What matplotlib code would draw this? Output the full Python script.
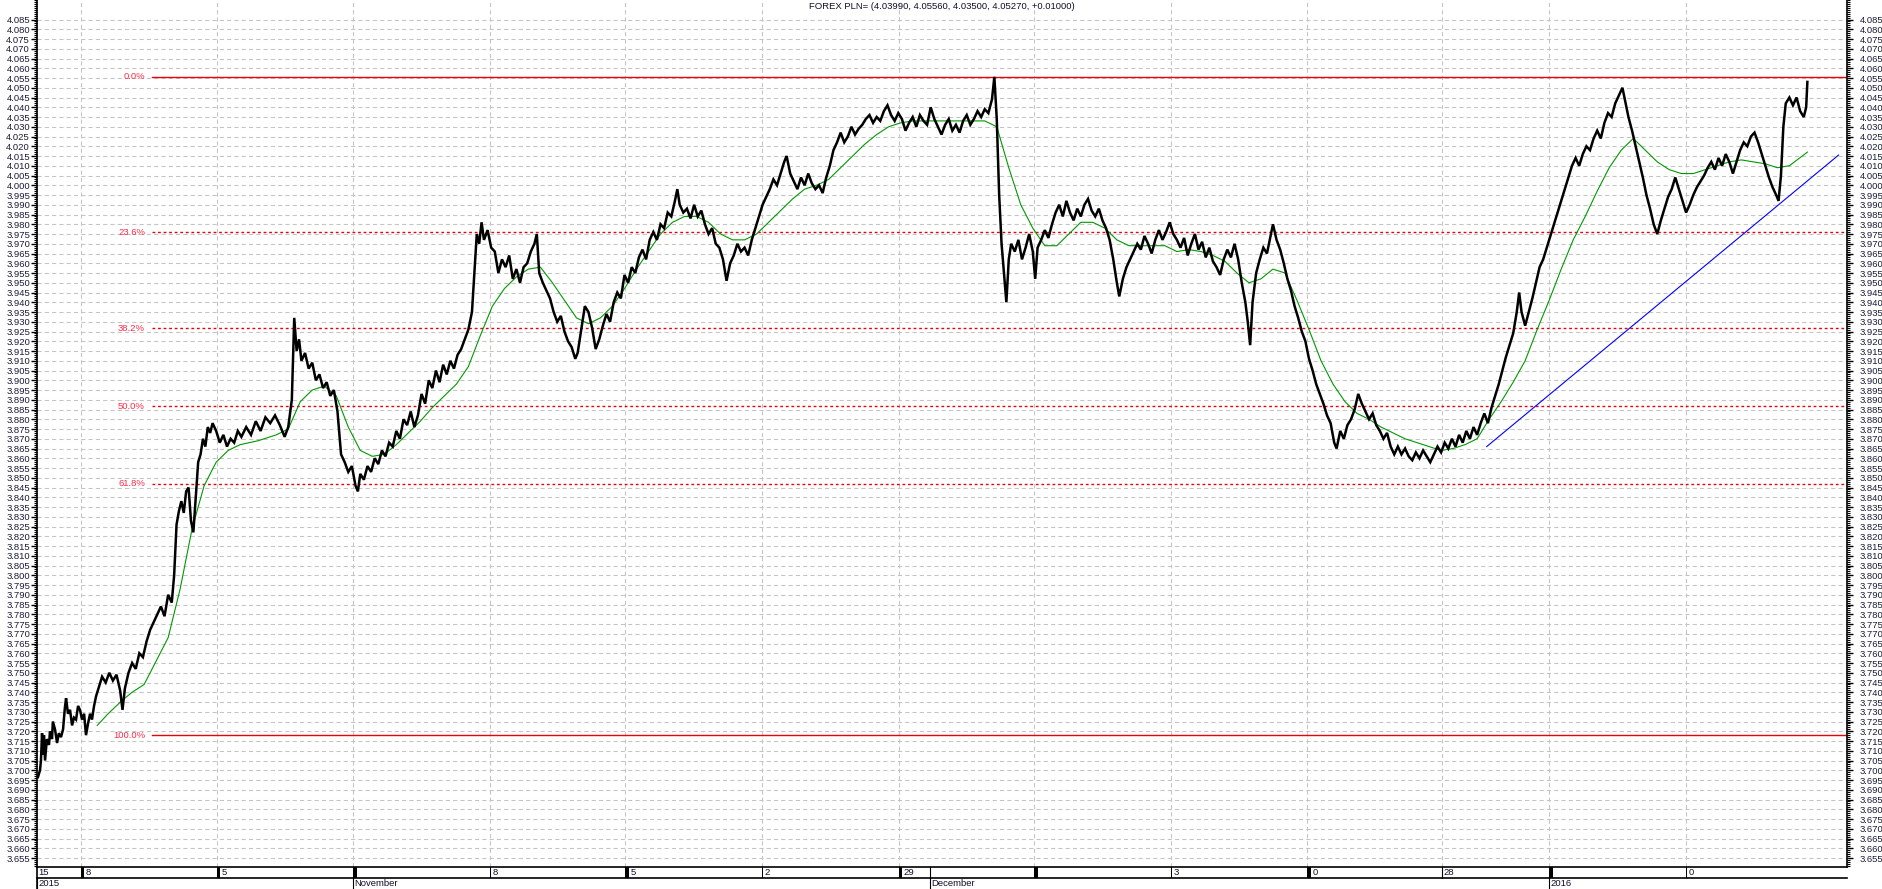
import matplotlib
matplotlib.use("Agg")
import matplotlib.pyplot as plt
from matplotlib.ticker import FixedLocator, MultipleLocator, FormatStrFormatter
import matplotlib.transforms as mtransforms
import numpy as np

plt.rcParams['font.family'] = ['Liberation Sans', 'DejaVu Sans']

TITLE = "FOREX PLN= (4.03990, 4.05560, 4.03500, 4.05270, +0.01000)"

# ---- price series (bar index, close) ----
price_x = [31.6, 33.3, 34.1, 35, 35.8, 36.6, 37.5, 39, 40.8, 41.6, 43.3, 44, 45.8, 47.5, 49, 50.8, 52.5, 54, 55,
           56.6, 58.3, 60, 61.6, 63.3, 65, 66.6, 68.3, 70, 71.6, 73.3, 75, 76.6, 78.3, 80, 82, 85, 88, 91, 94, 97,
           100, 102, 104, 107, 110, 113, 116, 119, 122, 125, 128, 131, 134, 137, 140, 143, 145, 147, 149, 151, 153,
           155, 157, 159, 161, 163, 165, 167, 169, 171, 173, 175, 177, 180, 183, 186, 189, 192, 195, 198, 201, 205,
           209, 213, 217, 221, 225, 229, 233, 237, 240, 243, 245, 247, 249, 251, 254, 257, 260, 263, 266, 269, 272,
           275, 278, 281, 284, 287, 290, 293, 296, 298, 300, 303, 306, 309, 312, 315, 318, 321, 324, 327, 330, 333,
           336, 339, 342, 345, 348, 351, 354, 357, 360, 363, 366, 369, 372, 375, 378, 381, 384, 387, 390, 393, 395,
           397, 399, 401, 403, 406, 409, 412, 415, 418, 421, 424, 427, 430, 433, 436, 439, 442, 445, 447, 449, 452,
           455, 458, 461, 464, 467, 470, 473, 476, 479, 481, 484, 487, 490, 493, 496, 499, 502, 505, 508, 511, 514,
           517, 520, 523, 526, 529, 532, 535, 538, 541, 544, 547, 550, 553, 556, 559, 562, 564, 566, 569, 572, 575,
           578, 581, 584, 587, 590, 593, 596, 599, 602, 605, 608, 611, 614, 617, 620, 623, 626, 629, 632, 635, 638,
           641, 644, 647, 650, 653, 655, 658, 661, 664, 667, 670, 673, 676, 679, 682, 685, 688, 691, 694, 697, 700,
           703, 706, 709, 712, 715, 718, 721, 724, 727, 730, 733, 736, 739, 742, 745, 748, 751, 754, 757, 760, 763,
           766, 769, 772, 775, 778, 781, 784, 787, 790, 793, 796, 799, 802, 805, 808, 811, 814, 817, 820, 823, 826,
           828, 830, 832, 834, 836, 838, 840, 842, 845, 848, 851, 854, 857, 860, 862, 864, 867, 870, 873, 876, 879,
           882, 885, 888, 891, 894, 897, 900, 903, 906, 909, 912, 915, 918, 921, 924, 927, 930, 932, 935, 938, 941,
           944, 947, 950, 953, 956, 959, 962, 965, 968, 971, 974, 977, 980, 983, 986, 989, 992, 995, 998, 1001,
           1004, 1007, 1010, 1013, 1016, 1019, 1022, 1025, 1028, 1031, 1034, 1037, 1039, 1041, 1043, 1046, 1049,
           1052, 1055, 1058, 1060, 1063, 1066, 1069, 1072, 1075, 1078, 1081, 1084, 1087, 1090, 1093, 1096, 1099,
           1102, 1105, 1108, 1111, 1113, 1116, 1119, 1122, 1125, 1128, 1131, 1134, 1137, 1140, 1143, 1146, 1149,
           1152, 1155, 1158, 1161, 1164, 1167, 1170, 1173, 1176, 1179, 1182, 1185, 1188, 1191, 1194, 1197, 1200,
           1203, 1206, 1209, 1212, 1215, 1218, 1221, 1224, 1227, 1230, 1233, 1236, 1239, 1242, 1245, 1248, 1251,
           1254, 1257, 1260, 1263, 1265, 1267, 1270, 1273, 1276, 1279, 1282, 1285, 1288, 1291, 1294, 1297, 1300,
           1303, 1306, 1309, 1312, 1315, 1318, 1321, 1324, 1327, 1330, 1333, 1336, 1339, 1342, 1345, 1348, 1351,
           1353, 1356, 1359, 1362, 1365, 1368, 1371, 1374, 1377, 1380, 1383, 1386, 1389, 1392, 1395, 1398, 1401,
           1404, 1407, 1410, 1413, 1416, 1419, 1422, 1425, 1428, 1431, 1434, 1437, 1440, 1443, 1446, 1449, 1452,
           1455, 1458, 1461, 1464, 1467, 1470, 1473, 1476, 1479, 1481, 1483, 1485, 1487, 1490, 1493, 1496, 1499,
           1502, 1504, 1505]
price_y = [3.6965, 3.700, 3.705, 3.719, 3.708, 3.718, 3.705, 3.716, 3.713, 3.720, 3.716, 3.725, 3.721, 3.714, 3.719,
           3.717, 3.721, 3.732, 3.737, 3.729, 3.731, 3.723, 3.727, 3.726, 3.733, 3.731, 3.726, 3.729, 3.718, 3.724,
           3.729, 3.726, 3.733, 3.738, 3.742, 3.748, 3.745, 3.750, 3.746, 3.749, 3.741, 3.731, 3.742, 3.750, 3.755,
           3.752, 3.760, 3.758, 3.766, 3.772, 3.776, 3.780, 3.784, 3.779, 3.790, 3.786, 3.800, 3.826, 3.833, 3.838,
           3.832, 3.843, 3.845, 3.828, 3.822, 3.840, 3.858, 3.862, 3.870, 3.866, 3.876, 3.873, 3.878, 3.874, 3.868,
           3.872, 3.866, 3.870, 3.868, 3.874, 3.871, 3.876, 3.872, 3.879, 3.874, 3.881, 3.878, 3.882, 3.877, 3.871,
           3.876, 3.890, 3.932, 3.915, 3.921, 3.910, 3.914, 3.906, 3.909, 3.900, 3.903, 3.896, 3.899, 3.892, 3.895,
           3.884, 3.862, 3.858, 3.853, 3.856, 3.846, 3.843, 3.852, 3.849, 3.856, 3.853, 3.860, 3.857, 3.864, 3.861,
           3.868, 3.866, 3.874, 3.870, 3.880, 3.877, 3.884, 3.876, 3.882, 3.893, 3.888, 3.900, 3.896, 3.905, 3.899,
           3.908, 3.903, 3.910, 3.906, 3.913, 3.916, 3.921, 3.926, 3.935, 3.955, 3.975, 3.970, 3.981, 3.972, 3.977,
           3.968, 3.966, 3.955, 3.962, 3.958, 3.964, 3.952, 3.957, 3.950, 3.958, 3.960, 3.966, 3.970, 3.975, 3.955,
           3.950, 3.946, 3.942, 3.935, 3.930, 3.933, 3.925, 3.920, 3.917, 3.911, 3.914, 3.926, 3.938, 3.935, 3.927,
           3.916, 3.921, 3.928, 3.934, 3.930, 3.940, 3.945, 3.942, 3.954, 3.950, 3.958, 3.955, 3.963, 3.967, 3.962,
           3.972, 3.976, 3.972, 3.980, 3.978, 3.986, 3.984, 3.992, 3.998, 3.990, 3.986, 3.988, 3.983, 3.990, 3.984,
           3.987, 3.980, 3.975, 3.978, 3.970, 3.968, 3.962, 3.951, 3.960, 3.964, 3.970, 3.966, 3.968, 3.964, 3.972,
           3.978, 3.984, 3.990, 3.994, 3.998, 4.003, 4.000, 4.006, 4.012, 4.015, 4.006, 4.002, 3.998, 4.004, 4.000,
           4.006, 4.001, 3.998, 4.000, 3.996, 4.004, 4.010, 4.018, 4.022, 4.027, 4.022, 4.025, 4.030, 4.026, 4.029,
           4.031, 4.034, 4.036, 4.032, 4.035, 4.033, 4.038, 4.041, 4.036, 4.033, 4.037, 4.034, 4.028, 4.032, 4.035,
           4.030, 4.036, 4.033, 4.031, 4.040, 4.034, 4.030, 4.026, 4.031, 4.034, 4.028, 4.031, 4.027, 4.033, 4.036,
           4.031, 4.034, 4.038, 4.035, 4.039, 4.037, 4.044, 4.0556, 4.034, 3.995, 3.970, 3.955, 3.940, 3.962, 3.970,
           3.966, 3.972, 3.962, 3.968, 3.975, 3.966, 3.952, 3.968, 3.972, 3.977, 3.973, 3.980, 3.986, 3.990, 3.984,
           3.992, 3.986, 3.982, 3.988, 3.984, 3.990, 3.993, 3.987, 3.984, 3.988, 3.982, 3.978, 3.972, 3.962, 3.950,
           3.943, 3.952, 3.958, 3.962, 3.966, 3.970, 3.967, 3.974, 3.970, 3.965, 3.972, 3.977, 3.972, 3.976, 3.981,
           3.975, 3.972, 3.968, 3.973, 3.964, 3.970, 3.975, 3.967, 3.971, 3.963, 3.968, 3.961, 3.958, 3.954, 3.962,
           3.967, 3.963, 3.970, 3.962, 3.950, 3.940, 3.930, 3.918, 3.940, 3.955, 3.962, 3.968, 3.965, 3.974, 3.980,
           3.972, 3.967, 3.960, 3.952, 3.946, 3.938, 3.932, 3.925, 3.920, 3.911, 3.905, 3.898, 3.893, 3.888, 3.882,
           3.878, 3.868, 3.865, 3.874, 3.870, 3.877, 3.880, 3.885, 3.893, 3.888, 3.884, 3.880, 3.883, 3.877, 3.874,
           3.870, 3.873, 3.866, 3.862, 3.866, 3.862, 3.865, 3.861, 3.859, 3.863, 3.860, 3.864, 3.861, 3.858, 3.862,
           3.866, 3.863, 3.868, 3.865, 3.870, 3.866, 3.872, 3.868, 3.874, 3.870, 3.876, 3.872, 3.878, 3.883, 3.878,
           3.886, 3.892, 3.898, 3.905, 3.912, 3.918, 3.924, 3.935, 3.945, 3.935, 3.928, 3.935, 3.942, 3.950, 3.958,
           3.962, 3.968, 3.974, 3.980, 3.986, 3.992, 3.998, 4.004, 4.010, 4.014, 4.010, 4.016, 4.020, 4.018, 4.024,
           4.028, 4.024, 4.032, 4.037, 4.035, 4.042, 4.046, 4.050, 4.044, 4.035, 4.028, 4.020, 4.012, 4.004, 3.995,
           3.988, 3.980, 3.975, 3.982, 3.988, 3.994, 3.998, 4.004, 3.998, 3.992, 3.986, 3.990, 3.995, 3.999, 4.002,
           4.005, 4.009, 4.012, 4.008, 4.014, 4.010, 4.016, 4.012, 4.006, 4.012, 4.018, 4.022, 4.020, 4.025, 4.027,
           4.022, 4.016, 4.010, 4.004, 3.999, 3.995, 3.992, 4.005, 4.030, 4.042, 4.045, 4.041, 4.045, 4.038, 4.035,
           4.040, 4.053]

# ---- moving average (green) ----
ma_x = [81, 90, 102, 110, 120, 140, 150, 160, 170, 180, 190, 200, 215, 230, 240, 250, 260, 270, 280, 290, 300,
        310, 320, 330, 340, 350, 360, 370, 380, 390, 400, 410, 420, 430, 440, 450, 460, 470, 480, 490, 500, 510,
        520, 530, 540, 550, 560, 570, 580, 590, 600, 610, 620, 630, 640, 650, 660, 670, 680, 690, 700, 710, 720,
        730, 740, 750, 760, 780, 800, 820, 830, 840, 850, 860, 870, 880, 890, 900, 910, 920, 930, 940, 950, 960,
        970, 980, 990, 1000, 1010, 1020, 1030, 1040, 1050, 1060, 1070, 1080, 1090, 1100, 1110, 1120, 1130, 1140,
        1150, 1160, 1170, 1180, 1190, 1200, 1210, 1220, 1230, 1240, 1250, 1260, 1270, 1280, 1290, 1300, 1310,
        1320, 1330, 1340, 1350, 1360, 1370, 1380, 1390, 1400, 1410, 1420, 1430, 1440, 1450, 1460, 1470, 1480,
        1490, 1505]
ma_y = [3.723, 3.729, 3.736, 3.740, 3.744, 3.768, 3.793, 3.824, 3.846, 3.858, 3.864, 3.867, 3.869, 3.872, 3.875,
        3.889, 3.895, 3.897, 3.892, 3.876, 3.864, 3.861, 3.862, 3.867, 3.873, 3.879, 3.886, 3.892, 3.898, 3.907,
        3.923, 3.938, 3.947, 3.953, 3.957, 3.958, 3.950, 3.941, 3.932, 3.929, 3.932, 3.938, 3.947, 3.957, 3.966,
        3.975, 3.981, 3.984, 3.984, 3.981, 3.975, 3.972, 3.972, 3.975, 3.981, 3.987, 3.993, 3.998, 4.000, 4.003,
        4.009, 4.015, 4.021, 4.026, 4.030, 4.032, 4.033, 4.033, 4.033, 4.033, 4.030, 4.009, 3.990, 3.978, 3.969,
        3.969, 3.975, 3.981, 3.981, 3.978, 3.972, 3.969, 3.969, 3.969, 3.969, 3.966, 3.967, 3.966, 3.964, 3.961,
        3.955, 3.950, 3.952, 3.957, 3.955, 3.941, 3.926, 3.910, 3.898, 3.889, 3.883, 3.880, 3.876, 3.873, 3.870,
        3.868, 3.866, 3.864, 3.865, 3.867, 3.870, 3.880, 3.889, 3.899, 3.910, 3.926, 3.941, 3.957, 3.972, 3.984,
        3.997, 4.009, 4.018, 4.024, 4.018, 4.012, 4.008, 4.006, 4.006, 4.008, 4.010, 4.012, 4.013, 4.012, 4.011,
        4.009, 4.010, 4.017]

# ---- trend line (blue) ----
trend_x = [1238, 1531]
trend_y = [3.866, 4.0155]

# ---- Fibonacci retracement ----
fib_labels = ["0.0%", "23.6%", "38.2%", "50.0%", "61.8%", "100.0%"]
fib_levels = [4.0556, 3.9759, 3.9267, 3.8868, 3.8470, 3.7180]
fib_solid = [True, False, False, False, False, True]

# ---- date axis ----
week_ticks = [67.5, 180.7, 294, 408, 520.4, 634.5, 748.6, 861, 975, 1088.4, 1200.8, 1289.9, 1404]
row1_pos = [30.8, 67.5, 180.7, 294, 408, 520.4, 634.5, 748.6, 774.4, 861, 975, 1088.4, 1200.8, 1289.9, 1404]
row1_labels = ["15", "8", "5", "", "8", "5", "2", "29", "", "", "3", "0", "28", "", "0"]
row1_bar = [0, 3, 3, 4, 1, 4, 1, 3, 0, 4, 1, 4, 0, 4, 1]
month_pos = [30.8, 294, 774.4, 1289.9]
month_labels = ["2015", "November", "December", "2016"]

XMIN, XMAX = 30.8, 1538.0
YMIN, YMAX = 3.6504, 4.095
ytick_vals = np.round(np.arange(3.655, 4.0851, 0.005), 3)

W, H = 1883, 889
fig = plt.figure(figsize=(W / 100, H / 100), dpi=100)
fig.patch.set_facecolor("white")
ax = fig.add_axes([37 / W, 22 / H, 1810 / W, 867 / H])
ax.set_xlim(XMIN, XMAX)
ax.set_ylim(YMIN, YMAX)

grid_kw = dict(color="#c4c4c4", lw=0.75, ls=(0, (4, 3)), zorder=0)
for v in ytick_vals:
    ax.axhline(v, **grid_kw)
for t in week_ticks:
    ax.axvline(t, **grid_kw)

px = 1 / 1.2009
fib_col = "#e8000b"
for lab, lev, solid in zip(fib_labels, fib_levels, fib_solid):
    x0 = XMIN + (152 - 37) * px
    ax.plot([x0, XMAX], [lev, lev], color=fib_col, lw=1.0,
            ls="-" if solid else (0, (2, 2)), zorder=2)
    ax.text(XMIN + (145 - 37) * px, lev, lab, color="#ff2a48", fontsize=6.8,
            ha="right", va="center", zorder=3)

ax.plot(trend_x, trend_y, color="#0000ff", lw=0.8, zorder=3)
ax.plot(ma_x, ma_y, color="#009900", lw=0.8, zorder=4)
ax.plot(price_x, price_y, color="black", lw=1.8, zorder=5, solid_joinstyle="miter")

ax.yaxis.set_major_locator(FixedLocator(ytick_vals))
ax.yaxis.set_major_formatter(FormatStrFormatter("%.3f"))
ax.yaxis.set_minor_locator(MultipleLocator(0.001))
ax.tick_params(axis="y", which="major", left=True, right=True, labelleft=True, labelright=True,
               length=4, width=1, direction="out", labelsize=6.8, labelcolor="#1c1c38", pad=1)
ax.tick_params(axis="y", which="minor", left=True, right=True, length=2.2, width=0.8, direction="out")
ax.set_xticks([])
for s in ["left", "right", "bottom"]:
    ax.spines[s].set_color("black")
    ax.spines[s].set_linewidth(1.2)
ax.spines["top"].set_visible(False)

off = mtransforms.ScaledTranslation(6 / 100, 0, fig.dpi_scale_trans)
for t in ax.yaxis.get_major_ticks():
    t.label2.set_transform(t.label2.get_transform() + off)

# title
fig.text(942 / W, 1 - 6.5 / H, TITLE, ha="center", va="center", fontsize=6.8, color="#10102a")

# date axis rows
ax2 = fig.add_axes([37 / W, 0, 1810 / W, 22 / H])
ax2.set_xlim(XMIN, XMAX)
ax2.set_ylim(22, 0)
ax2.axis("off")
ax2.plot([XMIN, XMAX], [11, 11], color="black", lw=1.2, clip_on=False)
ax2.plot([XMIN, XMIN], [0, 22], color="black", lw=1.2, clip_on=False)
for p, lab, bw in zip(row1_pos, row1_labels, row1_bar):
    if p > XMIN:
        if bw > 0:
            ax2.fill_between([p, p + bw * px], 0, 11, color="black", lw=0)
        else:
            ax2.plot([p, p], [0, 11], color="black", lw=0.8)
    if lab:
        ax2.text(p + (bw + 1.5) * px, 5.8, lab, fontsize=6.8, ha="left", va="center", color="#10102a")
for p, lab in zip(month_pos, month_labels):
    ax2.plot([p, p], [11, 22], color="black", lw=0.8)
    ax2.text(p + 1.5 * px, 17, lab, fontsize=6.8, ha="left", va="center", color="#10102a")

fig.savefig("out.png", dpi=100, facecolor="white")
